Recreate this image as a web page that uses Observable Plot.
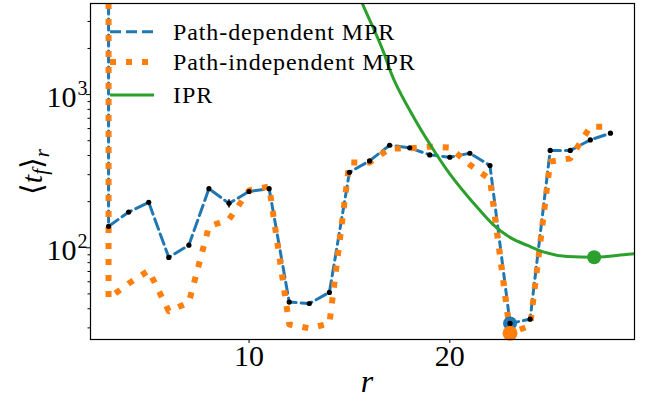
<!DOCTYPE html>
<html><head><meta charset="utf-8">
<script src="https://cdn.jsdelivr.net/npm/d3@7"></script>
<script src="https://cdn.jsdelivr.net/npm/@observablehq/plot@0.6"></script>
<style>
body{margin:0;background:#fff}
#chart{width:657px;height:410px}
#chart svg text, #chart svg tspan{font-family:'Liberation Serif','DejaVu Serif',serif !important;}
</style>
</head><body><div id="chart"></div>
<script>
// ---- data ----
const rValues = [3,4,5,6,7,8,9,10,11,12,13,14,15,16,17,18,19,20,21,22,23,24,25,26,27,28];
const pathDependent = [138,171,198,86.5,104,243,195,233,243,44.2,43.3,51.1,311,369,467,449,404,390,414,344,32.1,34.2,432,432,506,560];
const pathIndependent = [46.7,58.5,71,38.6,44,138,153,237,251,31.6,29.8,32,361,360,445,445,458,451,348,280,27.7,31,365,383,617,617];
const offscaleStartR = 3;          // both MPR curves start far above the plotted range at r = 3
const offscaleStartValue = 1e6;
const iprR = [15.2,15.65,16.73,17.06,18.06,19.05,19.88,20.71,21.54,22.2,23.04,23.87,24.7,25.86,27.19,28.19,29.18,29.6];
const iprValues = [5400,3908,1845,1397,767,465,319,231,173,140,116,103.5,93.6,87.7,86.8,88.7,91.4,92.6];
const errR = [9];
const errLow = [182];
const errHigh = [206];
const xTicks = [10,20];
const yMajor = [100,1000];
const yMinor = [30,40,50,60,70,80,90,200,300,400,500,600,700,800,900,2000,3000];
const seriesNames = ["Path-dependent MPR","Path-independent MPR","IPR"];
const colors = ["#1f77b4","#ff7f0e","#2ca02c"];

// ---- tables ----
const dep = [{r:offscaleStartR, v:offscaleStartValue}, ...rValues.map((r,i)=>({r, v:pathDependent[i]}))];
const ind = [{r:offscaleStartR, v:offscaleStartValue}, ...rValues.map((r,i)=>({r, v:pathIndependent[i]}))];
const depPts = rValues.map((r,i)=>({r, v:pathDependent[i]}));
const ipr = iprR.map((r,i)=>({r, v:iprValues[i]}));
const errs = errR.map((r,i)=>({r, lo:errLow[i], hi:errHigh[i]}));
const depMin = d3.least(depPts, d=>d.v);
const indMin = d3.least(rValues.map((r,i)=>({r, v:pathIndependent[i]})), d=>d.v);
const iprMin = d3.least(ipr.filter(d=>d.r<=29.2), d=>d.v);

const svg = Plot.plot({
  width: 657, height: 410,
  marginLeft: 90, marginRight: 23, marginTop: 3, marginBottom: 71,
  style: {background: "white", color: "black"},
  x: {domain: [2.1, 29.2]},
  y: {type: "log", domain: [25.2, 3930]},
  marks: [
    Plot.line(dep, {x:"r", y:"v", stroke: colors[0], strokeWidth: 3, strokeDasharray: "11 5", clip: true}),
    Plot.line(ind, {x:"r", y:"v", stroke: colors[1], strokeWidth: 6, strokeDasharray: "6 10", strokeLinecap: "butt", clip: true}),
    Plot.ruleX(errs, {x:"r", y1:"lo", y2:"hi", stroke:"black", strokeWidth:1.5}),
    Plot.line(ipr, {x:"r", y:"v", stroke: colors[2], strokeWidth: 3, curve: "monotone-x", clip: true}),
    Plot.dot([depMin], {x:"r", y:"v", r:7, fill: colors[0]}),
    Plot.dot([indMin], {x:"r", y:"v", r:7.5, fill: colors[1]}),
    Plot.dot(depPts, {x:"r", y:"v", r:2.6, fill:"black"}),
    Plot.dot([iprMin], {x:"r", y:"v", r:7, fill: colors[2]}),
    Plot.frame({stroke:"black", strokeWidth:1.2}),
    Plot.axisX({ticks: xTicks, tickSize: 4, tickPadding: 1, fontSize: 30, label: null}),
    Plot.axisY({ticks: yMajor, tickSize: 4, fill: "none", label: null}),
    Plot.axisY({ticks: yMinor, tickSize: 2.5, fill: "none", label: null}),
    Plot.text(yMajor, {y: d=>d, text: d=>"10", frameAnchor:"left", textAnchor:"end", dx:-14, dy:3, fontSize:30, lineAnchor:"middle"}),
    Plot.text(yMajor, {y: d=>d, text: d=>String(Math.round(Math.log10(d))), frameAnchor:"left", textAnchor:"end", dx:-3, dy:-6, fontSize:20, lineAnchor:"middle"})
  ]
});
document.getElementById("chart").appendChild(svg);

// ---- legend and axis titles ----
const s = d3.select(svg);
const leg = s.append("g").attr("font-size", 24).attr("letter-spacing", 0.9).attr("text-anchor","start");
const legY = [31.7, 62, 95];
const legStyles = [{w:3, dash:"11 5"}, {w:6, dash:"6 10"}, {w:3, dash:null}];
seriesNames.forEach((name,i)=>{
  const l = leg.append("line").attr("x1",110).attr("x2",154).attr("y1",legY[i]).attr("y2",legY[i])
    .attr("stroke",colors[i]).attr("stroke-width",legStyles[i].w);
  if (legStyles[i].dash) l.attr("stroke-dasharray",legStyles[i].dash);
  leg.append("text").attr("x",173).attr("y",legY[i]).attr("dy","0.35em").attr("fill","black").text(name);
});

const yl = s.append("text").attr("font-size", 30).attr("fill","black")
  .attr("text-anchor","middle").attr("transform","translate(42,172) rotate(-90)");
yl.append("tspan").text("⟨");
yl.append("tspan").attr("font-style","italic").text("t");
yl.append("tspan").attr("font-style","italic").attr("font-size",21).attr("dy",5).text("f");
yl.append("tspan").attr("dy",-5).text("⟩");
yl.append("tspan").attr("font-style","italic").attr("font-size",21).attr("dy",7).text("r");

s.append("text").attr("font-size", 32).attr("font-style","italic").attr("fill","black")
  .attr("text-anchor","middle").attr("x",367).attr("y",392).text("r");
</script>
</body></html>
